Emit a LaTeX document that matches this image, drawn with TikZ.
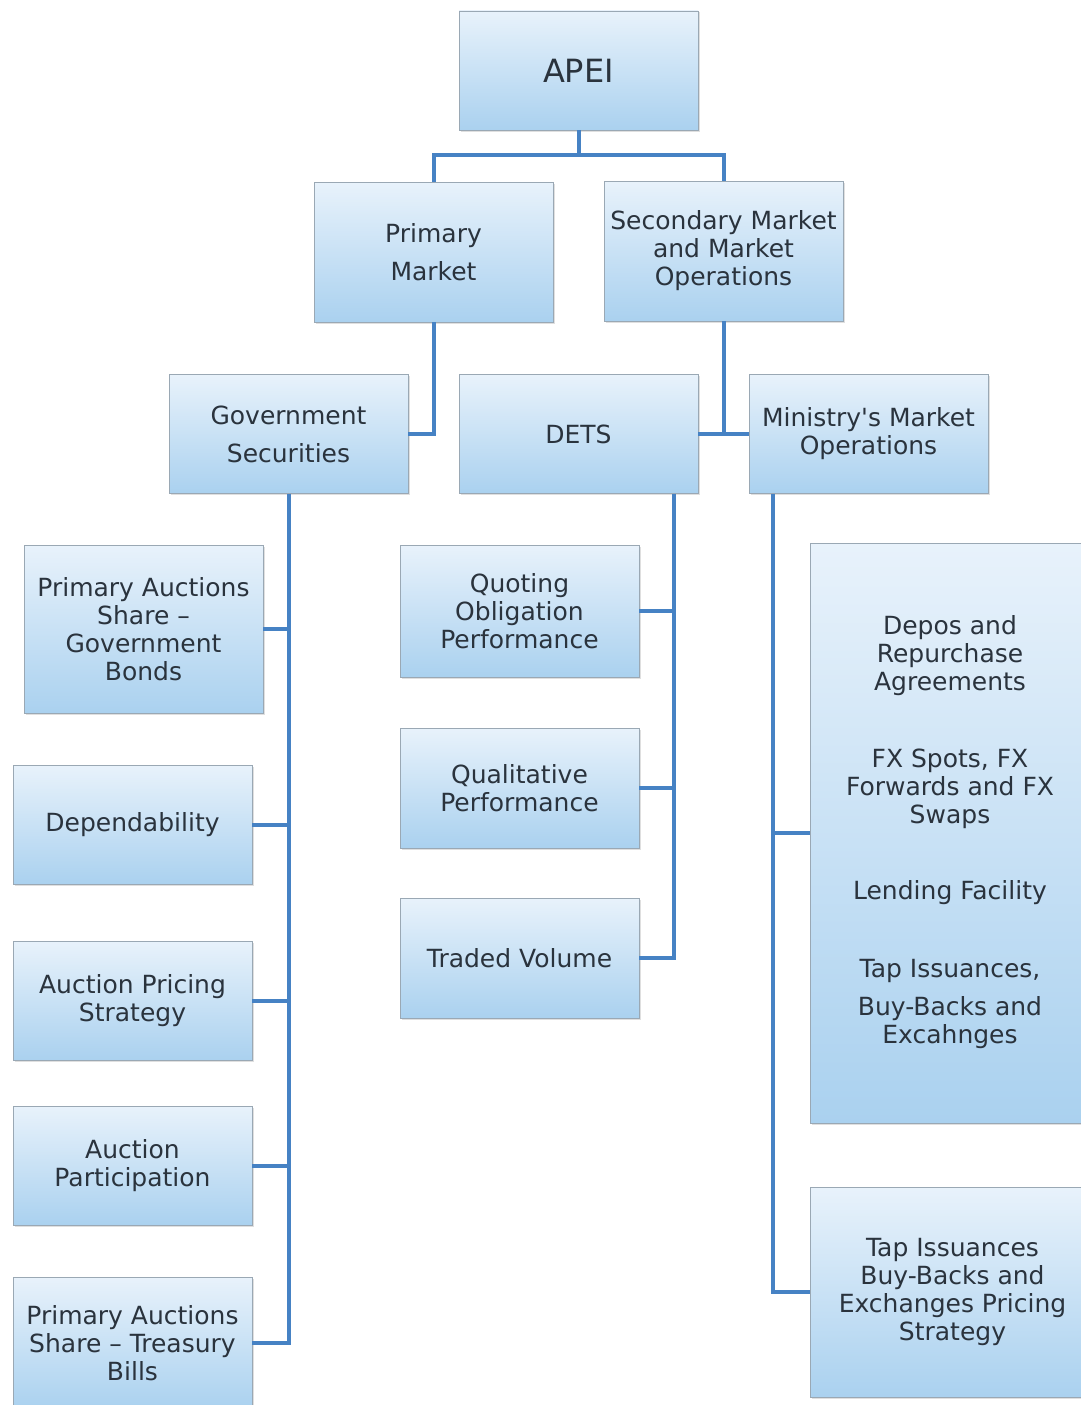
\documentclass[tikz,border=0pt]{standalone}
\usepackage{fontspec}
\setmainfont{DejaVu Sans}
\usetikzlibrary{shadows,calc}
\definecolor{linkblue}{HTML}{4682C4}
\definecolor{boxtop}{HTML}{E8F2FB}
\definecolor{boxbot}{HTML}{AAD1EF}
\definecolor{boxline}{HTML}{9AA8B4}
\definecolor{txt}{HTML}{2A333D}
\tikzset{
  box/.style={rectangle, draw=boxline, line width=0.8pt, top color=boxtop, bottom color=boxbot,
    minimum width=239pt, align=center, text=txt, inner sep=0pt,
    font=\fontsize{25}{28}\selectfont,
    drop shadow={shadow xshift=1.5pt, shadow yshift=-1.5pt, opacity=0.25}},
  widebox/.style={box, minimum width=285pt},
  wide/.style={font=\fontsize{25}{38}\selectfont},
  plain/.style={align=center, text=txt, inner sep=0pt, font=\fontsize{25}{28}\selectfont},
  link/.style={draw=linkblue, line width=4pt}
}
\begin{document}
\begin{tikzpicture}[x=1pt,y=-1pt]
\clip (0,0) rectangle (1081,1405);
\fill[white] (0,0) rectangle (1081,1405);
% level 0 and 1
\node[box, minimum height=119pt, font=\fontsize{32}{36}\selectfont] (apei) at (578.5,70.5) {APEI};
\node[box, wide, minimum height=140pt] (pm) at (433.5,252) {Primary\\Market};
\node[box, minimum height=140pt] (sm) at (723.5,251) {Secondary Market\\and Market\\Operations};
% level 2
\node[box, wide, minimum height=119pt] (gs) at (288.5,434) {Government\\Securities};
\node[box, minimum height=119pt] (dets) at (578.5,434) {DETS};
\node[box, minimum height=119pt] (mmo) at (868.5,434) {Ministry\textquotesingle s Market\\Operations};
% left column
\node[box, minimum height=168pt] (pasgb) at (143.5,629) {Primary Auctions\\Share --\\Government\\Bonds};
\node[box, minimum height=119pt] (dep) at (132.5,824.5) {Dependability};
\node[box, minimum height=119pt] (aps) at (132.5,1000.5) {Auction Pricing\\Strategy};
\node[box, minimum height=119pt] (ap) at (132.5,1165.5) {Auction\\Participation};
\node[box, minimum height=132pt] (pastb) at (132.5,1343) {Primary Auctions\\Share -- Treasury\\Bills};
% middle column
\node[box, minimum height=132pt] (qop) at (519.5,611) {Quoting\\Obligation\\Performance};
\node[box, minimum height=120pt] (qp) at (519.5,788) {Qualitative\\Performance};
\node[box, minimum height=120pt] (tv) at (519.5,958) {Traded Volume};
% right column
\node[widebox, minimum height=580pt] (big) at (952.5,833) {};
\node[plain] (t1) at (950,656) {Depos and\\Repurchase\\Agreements};
\node[plain] (t2) at (950,789) {FX Spots, FX\\Forwards and FX\\Swaps};
\node[plain] (t3) at (950,893) {Lending Facility};
\node[plain, font=\fontsize{25}{38}\selectfont] (t4a) at (950,971) {Tap Issuances,};
\node[plain] (t4b) at (950,1023) {Buy-Backs and\\Excahnges};
\node[widebox, minimum height=210pt] (tap) at (952.5,1292) {Tap Issuances\\Buy-Backs and\\Exchanges Pricing\\Strategy};
% connectors
\coordinate (j1) at (578.5,155);
\draw[link] (apei.south) -- (j1) -| (pm.north);
\draw[link] (j1) -| (sm.north);
\draw[link] (pm.south) |- (gs.east);
\draw[link] (sm.south) |- (dets.east);
\draw[link] (dets.east) -- (mmo.west);
% government securities trunk
\draw[link] (gs.south) |- (pastb.east);
\draw[link] (pasgb.east) -- (pasgb.east -| gs.south);
\draw[link] (dep.east) -- (dep.east -| gs.south);
\draw[link] (aps.east) -- (aps.east -| gs.south);
\draw[link] (ap.east) -- (ap.east -| gs.south);
% DETS trunk
\coordinate (dt) at ([xshift=-24pt]dets.south east);
\draw[link] (dt) |- (tv.east);
\draw[link] (qop.east) -- (qop.east -| dt);
\draw[link] (qp.east) -- (qp.east -| dt);
% Ministry trunk
\coordinate (mt) at ([xshift=24pt]mmo.south west);
\draw[link] (mt) |- (tap.west);
\draw[link] (big.west) -- (big.west -| mt);
\end{tikzpicture}
\end{document}
